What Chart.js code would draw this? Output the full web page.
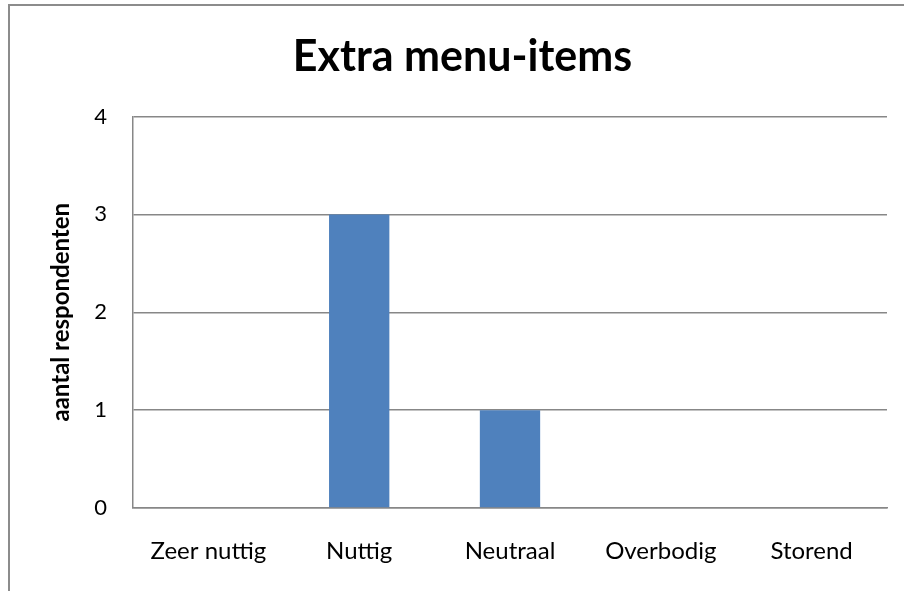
<!DOCTYPE html>
<html>
<head>
<meta charset="utf-8">
<script src="https://cdn.jsdelivr.net/npm/chart.js@4.4.1/dist/chart.umd.min.js"></script>
<style>
  html, body { margin: 0; padding: 0; background: #fff; }
  canvas { display: block; }
</style>
</head>
<body>
<canvas id="myChart" width="904" height="591"></canvas>
<script>
const categories = ['Zeer nuttig', 'Nuttig', 'Neutraal', 'Overbodig', 'Storend']
const respondents = [0, 3, 1, 0, 0]
const yTicks = [0, 1, 2, 3, 4]

const gridGray = '#878787'

// grey frame round the whole chart (left and top edge only are visible)
const framePlugin = {
  id: 'frame',
  beforeDraw(chart) {
    const ctx = chart.ctx
    ctx.save()
    ctx.fillStyle = '#8c8c8c'
    ctx.fillRect(8, 4, 2, chart.height - 4)
    ctx.fillRect(8, 4, chart.width - 8, 2)
    ctx.restore()
  }
}

const data = {
  labels: categories,
  datasets: [{
    label: 'aantal respondenten',
    data: respondents,
    backgroundColor: '#4F81BD',
    borderWidth: 0,
    barPercentage: 0.4,
    categoryPercentage: 1
  }]
}

const config = {
  type: 'bar',
  data,
  options: {
    responsive: false,
    animation: false,
    // left padding shifts the title centre to where the reference has it
    layout: { padding: { left: 38, right: 17, top: 0, bottom: 0 } },
    plugins: {
      legend: { display: false },
      tooltip: { enabled: false },
      title: {
        display: true,
        text: 'Extra menu-items',
        color: '#000',
        font: { family: 'Lato', size: 43, weight: 'bold', lineHeight: 1.2 },
        padding: { top: 30.9, bottom: 34 }
      }
    },
    scales: {
      x: {
        grid: { display: false, drawTicks: false },
        border: { display: true, color: gridGray, width: 1.5 },
        ticks: { color: '#000', padding: 29, font: { family: 'Lato', size: 24 } },
        afterFit(scale) { scale.height = 83 }
      },
      y: {
        min: 0,
        max: 4,
        afterBuildTicks(scale) { scale.ticks = yTicks.map(v => ({ value: v })) },
        grid: { color: gridGray, lineWidth: 1.5, drawTicks: false },
        border: { display: true, color: gridGray, width: 1.5 },
        ticks: { color: '#000', padding: 26, font: { family: 'Lato', size: 22 } },
        title: {
          display: true,
          text: 'aantal respondenten',
          color: '#000',
          font: { family: 'Lato', size: 24, weight: 'bold', lineHeight: 1.2 },
          padding: { top: 8.6, bottom: 0 }
        },
        afterFit(scale) { scale.width = 95 }
      }
    }
  },
  plugins: [framePlugin]
}

const myChart = new Chart(document.getElementById('myChart'), config)
</script>
</body>
</html>
